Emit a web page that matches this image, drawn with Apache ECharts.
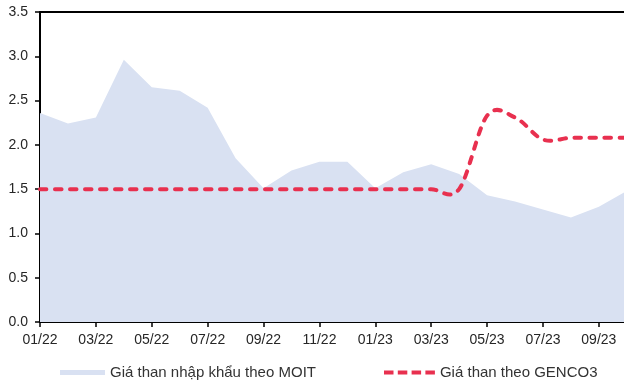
<!DOCTYPE html>
<html>
<head>
<meta charset="utf-8">
<script src="https://cdn.jsdelivr.net/npm/echarts@6/dist/echarts.min.js"></script>
<style>
  html, body { margin: 0; padding: 0; background: #fff; }
  #chart { width: 624px; height: 383px; }
</style>
</head>
<body>
<div id="chart"></div>
<script>
// Months from 01/22 to 10/23
const months = ['01/22','02/22','03/22','04/22','05/22','06/22','07/22','08/22','09/22','10/22','11/22','12/22',
                '01/23','02/23','03/23','04/23','05/23','06/23','07/23','08/23','09/23','10/23'];

// Imported coal price (MOIT)
const moitPrice = [2.36, 2.24, 2.31, 2.96, 2.65, 2.61, 2.42, 1.85, 1.51, 1.71, 1.81, 1.81,
                   1.51, 1.69, 1.78, 1.67, 1.43, 1.36, 1.27, 1.18, 1.30, 1.48];

// Coal price per GENCO3
const gencoPrice = [1.5, 1.5, 1.5, 1.5, 1.5, 1.5, 1.5, 1.5, 1.5, 1.5, 1.5, 1.5,
                    1.5, 1.5, 1.5, 1.5, 2.33, 2.31, 2.06, 2.08, 2.08, 2.08];

const moitName = 'Giá than nhập khẩu theo MOIT';
const gencoName = 'Giá than theo GENCO3';

const toPairs = arr => arr.map((v, i) => [i, v]);

const fontFamily = '"Liberation Sans", Arial, sans-serif';
const RED = '#E8304F';
const AREA = '#D9E1F2';

// Cardinal spline (tension 1/6) through the projected points, as a single SVG path
function splinePath(pts) {
  const n = pts.length;
  const p = i => pts[Math.max(0, Math.min(n - 1, i))];
  let d = 'M' + pts[0][0] + ' ' + pts[0][1];
  for (let i = 0; i < n - 1; i++) {
    const p0 = p(i - 1), p1 = p(i), p2 = p(i + 1), p3 = p(i + 2);
    const c1x = p1[0] + (p2[0] - p0[0]) / 6, c1y = p1[1] + (p2[1] - p0[1]) / 6;
    const c2x = p2[0] - (p3[0] - p1[0]) / 6, c2y = p2[1] - (p3[1] - p1[1]) / 6;
    d += ' C' + c1x + ' ' + c1y + ' ' + c2x + ' ' + c2y + ' ' + p2[0] + ' ' + p2[1];
  }
  return d;
}

const chart = echarts.init(document.getElementById('chart'), null, { renderer: 'canvas' });

chart.setOption({
  animation: false,
  grid: { left: 40, right: 0, top: 12, bottom: 61 },
  legend: [
    {
      left: 55, top: 360,
      itemWidth: 45, itemHeight: 5, itemGap: 5,
      textStyle: { fontFamily, fontSize: 15, color: '#333' },
      data: [{ name: moitName, icon: 'rect' }]
    },
    {
      left: 379, top: 360,
      itemWidth: 51, itemHeight: 4,
      textStyle: { fontFamily, fontSize: 15, color: '#333' },
      data: [{
        name: gencoName,
        icon: 'path://M0 0h9.5v4h-9.5z M13.8 0h9.5v4h-9.5z M27.6 0h9.5v4h-9.5z M41.4 0h9.5v4h-9.5z'
      }]
    }
  ],
  xAxis: [
    {
      type: 'value', min: 0, max: 20.9, interval: 2,
      axisLine: { lineStyle: { color: '#000', width: 2 } },
      axisTick: { length: 5, lineStyle: { color: '#000', width: 1.5 } },
      splitLine: { show: false },
      axisLabel: {
        showMaxLabel: false,
        fontFamily, fontSize: 14, color: '#262626', margin: 11,
        formatter: v => (Number.isInteger(v) && months[v]) ? months[v] : ''
      }
    },
    {
      type: 'value', position: 'top', min: 0, max: 20.9,
      axisLine: { show: true, lineStyle: { color: '#000', width: 2 } },
      axisTick: { show: false }, axisLabel: { show: false }, splitLine: { show: false }
    }
  ],
  yAxis: {
    type: 'value', min: 0, max: 3.5, interval: 0.5,
    axisLine: { show: true, lineStyle: { color: '#000', width: 2 } },
    axisTick: { show: true, length: 5, lineStyle: { color: '#000', width: 1.5 } },
    splitLine: { show: false },
    axisLabel: {
      fontFamily, fontSize: 14, color: '#262626', margin: 12,
      formatter: v => v.toFixed(1)
    }
  },
  series: [
    {
      name: moitName, type: 'line', xAxisIndex: 0,
      data: toPairs(moitPrice),
      symbol: 'none',
      itemStyle: { color: AREA },
      lineStyle: { width: 0, color: AREA },
      areaStyle: { color: AREA, opacity: 1 },
      z: 1
    },
    {
      name: gencoName, type: 'custom', xAxisIndex: 0,
      data: toPairs(gencoPrice),
      itemStyle: { color: RED },
      z: 3,
      renderItem: (params, api) => {
        if (params.dataIndex !== 0) return null;
        const pts = gencoPrice.map((v, i) => api.coord([i, v]));
        return {
          type: 'path',
          shape: { pathData: splinePath(pts) },
          style: { fill: 'none', stroke: RED, lineWidth: 4, lineDash: [6.5, 8.5], lineCap: 'round' }
        };
      }
    }
  ]
});
</script>
</body>
</html>
